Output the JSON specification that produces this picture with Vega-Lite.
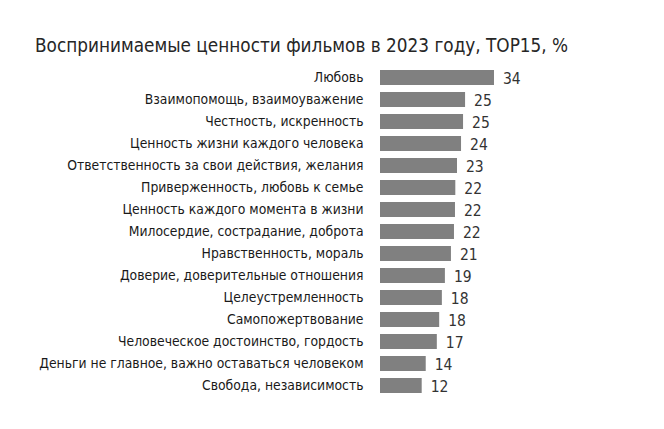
{
  "$schema": "https://vega.github.io/schema/vega-lite/v6.json",
  "autosize": {"type": "none"},
  "width": 269,
  "height": 330,
  "padding": {"left": 380, "top": 66.5, "right": 15, "bottom": 32.5},
  "background": "white",
  "title": {
    "text": "Воспринимаемые ценности фильмов в 2023 году, TOP15, %",
    "anchor": "start",
    "frame": "group",
    "dx": -345,
    "offset": 11,
    "font": "DejaVu Sans Condensed, sans-serif",
    "fontSize": 18.8,
    "fontWeight": "normal",
    "color": "#262626"
  },
  "data": {
    "values": [
      {"value_name": "Любовь", "pct": 33.9},
      {"value_name": "Взаимопомощь, взаимоуважение", "pct": 25.3},
      {"value_name": "Честность, искренность", "pct": 24.7},
      {"value_name": "Ценность жизни каждого человека", "pct": 24.1},
      {"value_name": "Ответственность за свои действия, желания", "pct": 22.9},
      {"value_name": "Приверженность, любовь к семье", "pct": 22.4},
      {"value_name": "Ценность каждого момента в жизни", "pct": 22.3},
      {"value_name": "Милосердие, сострадание, доброта", "pct": 22.0},
      {"value_name": "Нравственность, мораль", "pct": 21.1},
      {"value_name": "Доверие, доверительные отношения", "pct": 19.3},
      {"value_name": "Целеустремленность", "pct": 18.4},
      {"value_name": "Самопожертвование", "pct": 17.6},
      {"value_name": "Человеческое достоинство, гордость", "pct": 16.9},
      {"value_name": "Деньги не главное, важно оставаться человеком", "pct": 13.6},
      {"value_name": "Свобода, независимость", "pct": 12.4}
    ]
  },
  "encoding": {
    "y": {
      "field": "value_name",
      "type": "nominal",
      "sort": null,
      "scale": {"paddingInner": 0.32, "paddingOuter": 0.16},
      "axis": {
        "title": null,
        "domain": false,
        "ticks": false,
        "labelPadding": 17,
        "labelFont": "DejaVu Sans Condensed, sans-serif",
        "labelFontSize": 13.8,
        "labelColor": "#1a1a1a",
        "labelLimit": 400
      }
    },
    "x": {
      "field": "pct",
      "type": "quantitative",
      "scale": {"domain": [0, 80], "nice": false},
      "axis": null
    }
  },
  "layer": [
    {"mark": {"type": "bar", "color": "#808080"}},
    {
      "mark": {
        "type": "text",
        "align": "left",
        "baseline": "middle",
        "dx": 9,
        "dy": 1,
        "font": "DejaVu Sans Condensed, sans-serif",
        "fontSize": 15.5,
        "color": "#333333"
      },
      "encoding": {"text": {"field": "pct", "type": "quantitative", "format": ".0f"}}
    }
  ],
  "config": {"view": {"stroke": null}}
}
